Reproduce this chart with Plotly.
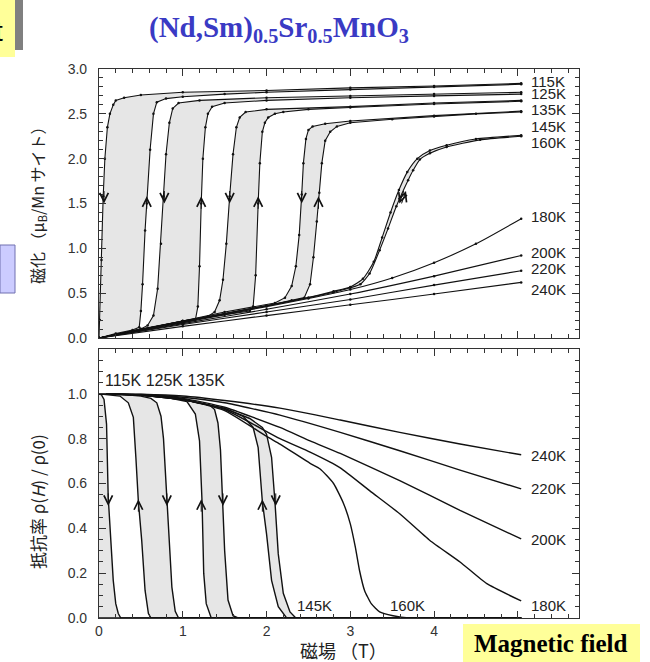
import plotly.graph_objects as go

# ---------------- DATA ----------------
# Top panel: magnetization M (muB/Mn) vs field H (T)
H115_up = [0, 0.2, 0.4, 0.48, 0.5, 0.52, 0.55, 0.57, 0.61, 0.65, 0.69, 0.8, 1.0, 1.5, 2.0, 3.0, 4.0, 5.04]
M115_up = [0, 0.05, 0.09, 0.12, 0.3, 0.6, 1.2, 1.5, 2.1, 2.5, 2.63, 2.67, 2.69, 2.72, 2.74, 2.77, 2.8, 2.83]
H115_dn = [5.04, 4, 3, 2, 1, 0.5, 0.3, 0.2, 0.17, 0.13, 0.1, 0.07, 0.05, 0.03, 0.01, 0]
M115_dn = [2.84, 2.81, 2.79, 2.76, 2.74, 2.71, 2.68, 2.65, 2.6, 2.5, 2.35, 2.0, 1.58, 0.87, 0.2, 0]

H125_up = [0, 0.5, 1.0, 1.15, 1.18, 1.2, 1.22, 1.24, 1.27, 1.3, 1.35, 1.5, 2, 3, 4, 5.04]
M125_up = [0, 0.1, 0.17, 0.2, 0.35, 0.8, 1.5, 2.0, 2.35, 2.5, 2.58, 2.62, 2.65, 2.68, 2.7, 2.72]
H125_dn = [5.04, 4, 3, 2, 1.2, 0.95, 0.88, 0.84, 0.8, 0.77, 0.74, 0.7, 0.65, 0.58, 0.5, 0]
M125_dn = [2.74, 2.72, 2.7, 2.68, 2.65, 2.62, 2.56, 2.4, 2.05, 1.58, 1.05, 0.55, 0.25, 0.14, 0.1, 0]

H135_up = [0, 1, 1.5, 1.8, 1.84, 1.87, 1.9, 1.92, 1.95, 1.98, 2.02, 2.1, 2.2, 2.5, 3, 4, 5.04]
M135_up = [0, 0.19, 0.26, 0.3, 0.35, 0.7, 1.5, 1.95, 2.3, 2.4, 2.46, 2.5, 2.52, 2.55, 2.57, 2.61, 2.64]
H135_dn = [5.04, 4, 3, 2.0, 1.75, 1.68, 1.64, 1.6, 1.56, 1.52, 1.48, 1.44, 1.38, 1.3, 1.0, 0.5, 0]
M135_dn = [2.65, 2.62, 2.58, 2.55, 2.52, 2.46, 2.35, 2.05, 1.58, 1.05, 0.65, 0.42, 0.29, 0.24, 0.19, 0.1, 0]

H145_up = [0, 1, 2, 2.3, 2.45, 2.52, 2.56, 2.6, 2.63, 2.66, 2.7, 2.76, 2.84, 3.0, 3.5, 4.0, 4.5, 5.04]
M145_up = [0, 0.19, 0.36, 0.42, 0.45, 0.6, 0.9, 1.3, 1.62, 1.95, 2.2, 2.3, 2.36, 2.4, 2.44, 2.47, 2.5, 2.52]
H145_dn = [5.04, 4.0, 3.0, 2.7, 2.55, 2.5, 2.47, 2.44, 2.42, 2.39, 2.35, 2.3, 2.22, 2.1, 1.5, 1, 0]
M145_dn = [2.53, 2.48, 2.42, 2.39, 2.36, 2.32, 2.22, 1.95, 1.6, 1.15, 0.8, 0.58, 0.45, 0.39, 0.29, 0.19, 0]

H160_up = [0, 1, 2, 2.5, 2.8, 3.0, 3.12, 3.23, 3.35, 3.45, 3.55, 3.69, 3.75, 3.83, 3.95, 4.15, 4.55, 5.04]
M160_up = [0, 0.18, 0.36, 0.45, 0.51, 0.56, 0.6, 0.72, 0.98, 1.22, 1.47, 1.76, 1.87, 1.99, 2.06, 2.13, 2.21, 2.25]
H160_dn = [5.04, 4.5, 4.15, 3.95, 3.8, 3.68, 3.58, 3.48, 3.38, 3.28, 3.15, 3.0, 2.8, 2.5, 2, 1, 0]
M160_dn = [2.26, 2.22, 2.15, 2.09, 2.0, 1.85, 1.65, 1.40, 1.12, 0.85, 0.66, 0.57, 0.52, 0.45, 0.36, 0.18, 0]

H180 = [0, 1, 2, 2.5, 3, 3.5, 4, 4.5, 5.04]
M180 = [0, 0.17, 0.35, 0.44, 0.54, 0.67, 0.84, 1.05, 1.33]
H200 = [0, 1, 2, 3, 4, 5.04]
M200 = [0, 0.16, 0.32, 0.49, 0.69, 0.92]
H220 = [0, 1, 2, 3, 4, 5.04]
M220 = [0, 0.15, 0.29, 0.43, 0.59, 0.75]
H240 = [0, 1, 2, 3, 4, 5.04]
M240 = [0, 0.13, 0.25, 0.37, 0.49, 0.62]

top_labels = ["115K", "125K", "135K", "145K", "160K", "180K", "200K", "220K", "240K"]
top_label_M = [2.86, 2.73, 2.545, 2.36, 2.185, 1.355, 0.95, 0.77, 0.536]

# Bottom panel: normalized resistivity rho(H)/rho(0) vs H (T)
H115_inc = [0, 0.03, 0.06, 0.09, 0.11, 0.14, 0.17, 0.2, 0.23, 0.26, 5.04]
R115_inc = [1.0, 0.995, 0.975, 0.865, 0.54, 0.346, 0.168, 0.064, 0.02, 0.0, 0.0]
H115_dec = [5.04, 0]
R115_dec = [0, 0]

H125_inc = [0, 0.3, 0.5, 0.62, 0.69, 0.74, 0.77, 0.79, 0.81, 0.84, 0.87, 0.91, 0.95, 5.04]
R125_inc = [1.0, 0.997, 0.99, 0.98, 0.96, 0.9, 0.8, 0.66, 0.52, 0.316, 0.138, 0.03, 0.0, 0.0]
H125_dec = [5.04, 0.62, 0.59, 0.55, 0.51, 0.47, 0.44, 0.41, 0.35, 0.25, 0]
R125_dec = [0, 0, 0.02, 0.123, 0.346, 0.52, 0.717, 0.895, 0.96, 0.99, 1.0]

H135_inc = [0, 0.5, 1.0, 1.2, 1.32, 1.38, 1.42, 1.45, 1.48, 1.5, 1.54, 1.6, 1.66, 5.04]
R135_inc = [1.0, 0.995, 0.975, 0.96, 0.95, 0.93, 0.87, 0.75, 0.52, 0.3, 0.08, 0.01, 0, 0]
H135_dec = [5.04, 1.34, 1.28, 1.25, 1.23, 1.2, 1.15, 1.05, 0.8, 0.4, 0]
R135_dec = [0, 0, 0.064, 0.2, 0.52, 0.79, 0.91, 0.965, 0.985, 0.997, 1.0]

H145_inc = [0, 0.5, 1.0, 1.5, 1.8, 1.95, 2.0, 2.06, 2.1, 2.14, 2.2, 2.28, 2.35, 5.04]
R145_inc = [1.0, 0.995, 0.975, 0.935, 0.89, 0.85, 0.82, 0.717, 0.52, 0.286, 0.11, 0.027, 0, 0]
H145_dec = [5.04, 2.24, 2.14, 2.06, 2.0, 1.95, 1.9, 1.84, 1.72, 1.5, 1.0, 0.5, 0]
R145_dec = [0, 0, 0.05, 0.168, 0.375, 0.52, 0.76, 0.85, 0.9, 0.935, 0.975, 0.995, 1.0]

H160_r = [0, 0.5, 1.0, 1.5, 2.0, 2.16, 2.52, 2.64, 2.8, 2.92, 3.0, 3.06, 3.11, 3.17, 3.25, 3.35, 3.51, 3.7, 5.04]
R160_r = [1.0, 0.995, 0.975, 0.925, 0.81, 0.776, 0.69, 0.665, 0.6, 0.51, 0.42, 0.316, 0.212, 0.123, 0.064, 0.027, 0.01, 0.0, 0.0]
H180_r = [0, 0.5, 1.0, 1.5, 2.16, 2.52, 2.88, 3.23, 3.59, 3.95, 4.31, 4.63, 5.04]
R180_r = [1.0, 0.995, 0.975, 0.93, 0.80, 0.74, 0.67, 0.568, 0.465, 0.346, 0.25, 0.153, 0.076]
H200_r = [0, 0.5, 1.0, 1.5, 2.16, 2.52, 2.88, 3.59, 4.31, 5.04]
R200_r = [1.0, 0.996, 0.98, 0.94, 0.85, 0.79, 0.734, 0.613, 0.48, 0.353]
H220_r = [0, 0.5, 1.0, 1.5, 2.16, 2.88, 3.59, 4.31, 5.04]
R220_r = [1.0, 0.997, 0.985, 0.96, 0.905, 0.828, 0.746, 0.66, 0.576]
H240_r = [0, 0.5, 1.0, 1.5, 2.16, 2.88, 3.59, 4.31, 5.04]
R240_r = [1.0, 0.998, 0.99, 0.97, 0.936, 0.883, 0.828, 0.776, 0.728]

bot_labels = ["145K", "160K", "180K", "200K", "220K", "240K"]
bot_label_H = [2.34, 3.45, 5.13, 5.13, 5.13, 5.13]
bot_label_R = [0.057, 0.057, 0.057, 0.35, 0.576, 0.727]

x_ticks = [0, 1, 2, 3, 4, 5]
x_ticktext = ["0", "1", "2", "3", "4", ""]
top_yticks = [0, 0.5, 1.0, 1.5, 2.0, 2.5, 3.0]
bot_yticks = [0, 0.2, 0.4, 0.6, 0.8, 1.0, 1.2]
bot_yticktext = ["0.0", "0.2", "0.4", "0.6", "0.8", "1.0", ""]

# ---------------- FIGURE ----------------
W, Hh = 650, 662
L, R_, T_, B = 99, 71, 69, 44
PW, PH = W - L - R_, Hh - T_ - B


def px(xp):
    return (xp - L) / PW


def py(yp):
    return (Hh - B - yp) / PH


FILL = "#e6e6e6"
LINE = "#111111"
fig = go.Figure()

top_loops = [(H115_up, M115_up, H115_dn, M115_dn, "linear"), (H125_up, M125_up, H125_dn, M125_dn, "linear"),
             (H135_up, M135_up, H135_dn, M135_dn, "linear"), (H145_up, M145_up, H145_dn, M145_dn, "linear"),
             (H160_up, M160_up, H160_dn, M160_dn, "spline")]
for hu, mu, hd, md, shp in top_loops:
    fig.add_trace(go.Scatter(x=hu + hd, y=mu + md, fill="toself", fillcolor=FILL,
                             line=dict(width=0, shape=shp, smoothing=0.6), mode="lines",
                             xaxis="x", yaxis="y", hoverinfo="skip", showlegend=False))
bot_loops = [(H115_inc, R115_inc, H115_dec, R115_dec), (H125_inc, R125_inc, H125_dec, R125_dec),
             (H135_inc, R135_inc, H135_dec, R135_dec), (H145_inc, R145_inc, H145_dec, R145_dec)]
for hu, mu, hd, md in bot_loops:
    fig.add_trace(go.Scatter(x=hu + hd, y=mu + md, fill="toself", fillcolor=FILL,
                             line=dict(width=0), mode="lines", xaxis="x2", yaxis="y2",
                             hoverinfo="skip", showlegend=False))

top_curves = [(H115_up, M115_up, "linear"), (H115_dn, M115_dn, "linear"),
              (H125_up, M125_up, "linear"), (H125_dn, M125_dn, "linear"),
              (H135_up, M135_up, "linear"), (H135_dn, M135_dn, "linear"),
              (H145_up, M145_up, "linear"), (H145_dn, M145_dn, "linear"),
              (H160_up, M160_up, "spline"), (H160_dn, M160_dn, "spline"),
              (H180, M180, "spline"), (H200, M200, "spline"),
              (H220, M220, "spline"), (H240, M240, "spline")]
for hx, my, shp in top_curves:
    fig.add_trace(go.Scatter(x=hx, y=my, mode="lines+markers", xaxis="x", yaxis="y",
                             line=dict(color=LINE, width=1.1, shape=shp, smoothing=0.6),
                             marker=dict(size=2.5, color=LINE), showlegend=False))
bot_curves = [(H115_inc, R115_inc, "linear"), (H115_dec, R115_dec, "linear"),
              (H125_inc, R125_inc, "linear"), (H125_dec, R125_dec, "linear"),
              (H135_inc, R135_inc, "linear"), (H135_dec, R135_dec, "linear"),
              (H145_inc, R145_inc, "linear"), (H145_dec, R145_dec, "linear"),
              (H160_r, R160_r, "spline"), (H180_r, R180_r, "spline"), (H200_r, R200_r, "spline"),
              (H220_r, R220_r, "spline"), (H240_r, R240_r, "spline")]
for hx, ry, shp in bot_curves:
    fig.add_trace(go.Scatter(x=hx, y=ry, mode="lines", xaxis="x2", yaxis="y2",
                             line=dict(color=LINE, width=1.4, shape=shp, smoothing=0.5),
                             showlegend=False, cliponaxis=False))

AX = "#333333"
TICKFONT = dict(family="Liberation Sans, Arial, sans-serif", size=14, color="#333333")
common_x = dict(range=[0, 5.73], tickmode="array", tickvals=x_ticks, ticks="inside", ticklen=7,
                tickcolor=AX, showline=True, linecolor=AX, linewidth=1.2, mirror="ticks",
                showgrid=False, zeroline=False, tickfont=TICKFONT,
                minor=dict(tickmode="linear", tick0=0, dtick=0.2, ticks="inside", ticklen=4,
                           tickcolor=AX, showgrid=False))
common_y = dict(tickmode="array", ticks="inside", ticklen=7, tickcolor=AX, showline=True,
                linecolor=AX, linewidth=1.2, mirror="ticks", showgrid=False, zeroline=False,
                tickfont=TICKFONT, ticklabelstandoff=8)

fig.update_layout(
    width=W, height=Hh, margin=dict(l=L, r=R_, t=T_, b=B),
    paper_bgcolor="white", plot_bgcolor="white", showlegend=False,
    xaxis=dict(common_x, anchor="y", showticklabels=False),
    yaxis=dict(common_y, domain=[py(338), 1], range=[0, 3.0], tickvals=top_yticks,
               tickformat=".1f",
               minor=dict(tickmode="linear", tick0=0, dtick=0.1, ticks="inside", ticklen=4,
                          tickcolor=AX, showgrid=False)),
    xaxis2=dict(common_x, anchor="y2", ticktext=x_ticktext, ticklabelstandoff=0),
    yaxis2=dict(common_y, domain=[0, py(349)], range=[0, 1.2], tickvals=bot_yticks,
                ticktext=bot_yticktext,
                minor=dict(tickmode="linear", tick0=0, dtick=0.05, ticks="inside", ticklen=4,
                           tickcolor=AX, showgrid=False)),
)

LABFONT = dict(family="Liberation Sans, Arial, sans-serif", size=15, color="#222222")
ann = []
for t, m in zip(top_labels, top_label_M):
    ann.append(dict(x=5.13, y=m, xref="x", yref="y", text=t, showarrow=False,
                    xanchor="left", yanchor="middle", font=LABFONT))
for t, hx, r in zip(bot_labels, bot_label_H, bot_label_R):
    ann.append(dict(x=hx, y=r, xref="x2", yref="y2", text=t, showarrow=False,
                    xanchor="left", yanchor="middle", font=LABFONT))
ann.append(dict(x=0.05, y=1.06, xref="x2", yref="y2", text="115K 125K 135K", showarrow=False,
                xanchor="left", yanchor="middle", font=dict(LABFONT, size=16)))


# direction arrows (tip at x, y)
def arrow(x, y, xr, yr, axp, ayp):
    return dict(x=x, y=y, xref=xr, yref=yr, ax=axp, ay=ayp, axref="pixel", ayref="pixel",
                showarrow=True, arrowhead=5, arrowsize=1.7, arrowwidth=1, arrowcolor=LINE,
                text="", standoff=0)


for hx in [0.06, 0.78, 1.56, 2.42]:
    ann.append(arrow(hx, 1.5, "x", "y", 0, -14))
for hx in [0.57, 1.22, 1.9, 2.62]:
    ann.append(arrow(hx, 1.58, "x", "y", 0, 14))
ann.append(arrow(3.585, 1.5, "x", "y", 5, -14))
ann.append(arrow(3.665, 1.64, "x", "y", -5, 14))
for hx in [0.11, 0.81, 1.48, 2.11]:
    ann.append(arrow(hx, 0.5, "x2", "y2", 0, -14))
for hx in [0.47, 1.22, 1.95]:
    ann.append(arrow(hx, 0.53, "x2", "y2", 0, 14))
ann.append(arrow(0.06, -0.006, "x2", "y2", 14, 0))


def ptext(x, y, text, font, **kw):
    d = dict(x=px(x), y=py(y), xref="paper", yref="paper", showarrow=False, text=text,
             xanchor="center", yanchor="middle", font=font)
    d.update(kw)
    return d


CJK = "Noto Sans CJK JP, sans-serif"
ann.append(ptext(279, 29, "(Nd,Sm)<sub>0.5</sub>Sr<sub>0.5</sub>MnO<sub>3</sub>",
                 dict(family="Liberation Serif, Times New Roman, serif", size=29,
                      color="#3a3ac4", weight="bold")))
ann.append(ptext(37, 201, "磁化 （μ<sub>B</sub>/Mn サイト）",
                 dict(family=CJK, size=16, color="#222222"), textangle=-90))
ann.append(ptext(37, 501, "抵抗率 ρ(<i>H</i>) / ρ(0)",
                 dict(family=CJK, size=17, color="#222222"), textangle=-90))
ann.append(ptext(343, 650, "磁場 （T）", dict(family=CJK, size=18, color="#222222")))
ann.append(ptext(551, 643, "Magnetic field",
                 dict(family="Liberation Serif, Times New Roman, serif", size=25,
                      color="#000000", weight="bold")))
ann.append(ptext(5, 31, "t", dict(family="Liberation Sans, Arial, sans-serif", size=28,
                                   color="#000000"), xanchor="right"))

shapes = [
    dict(type="rect", xref="paper", yref="paper", x0=px(15), x1=px(23), y0=py(50), y1=py(0),
         fillcolor="#808080", line=dict(width=0), layer="above"),
    dict(type="rect", xref="paper", yref="paper", x0=px(0), x1=px(15), y0=py(57), y1=py(0),
         fillcolor="#ffff99", line=dict(width=0), layer="above"),
    dict(type="rect", xref="paper", yref="paper", x0=px(0), x1=px(15), y0=py(293), y1=py(245),
         fillcolor="#ccccff", line=dict(width=1, color="#7070b0"), layer="above"),
    dict(type="rect", xref="paper", yref="paper", x0=px(463), x1=px(640), y0=py(662), y1=py(624),
         fillcolor="#ffff99", line=dict(width=0), layer="above"),
]
fig.update_layout(annotations=ann, shapes=shapes)
fig.write_html("out.html")
